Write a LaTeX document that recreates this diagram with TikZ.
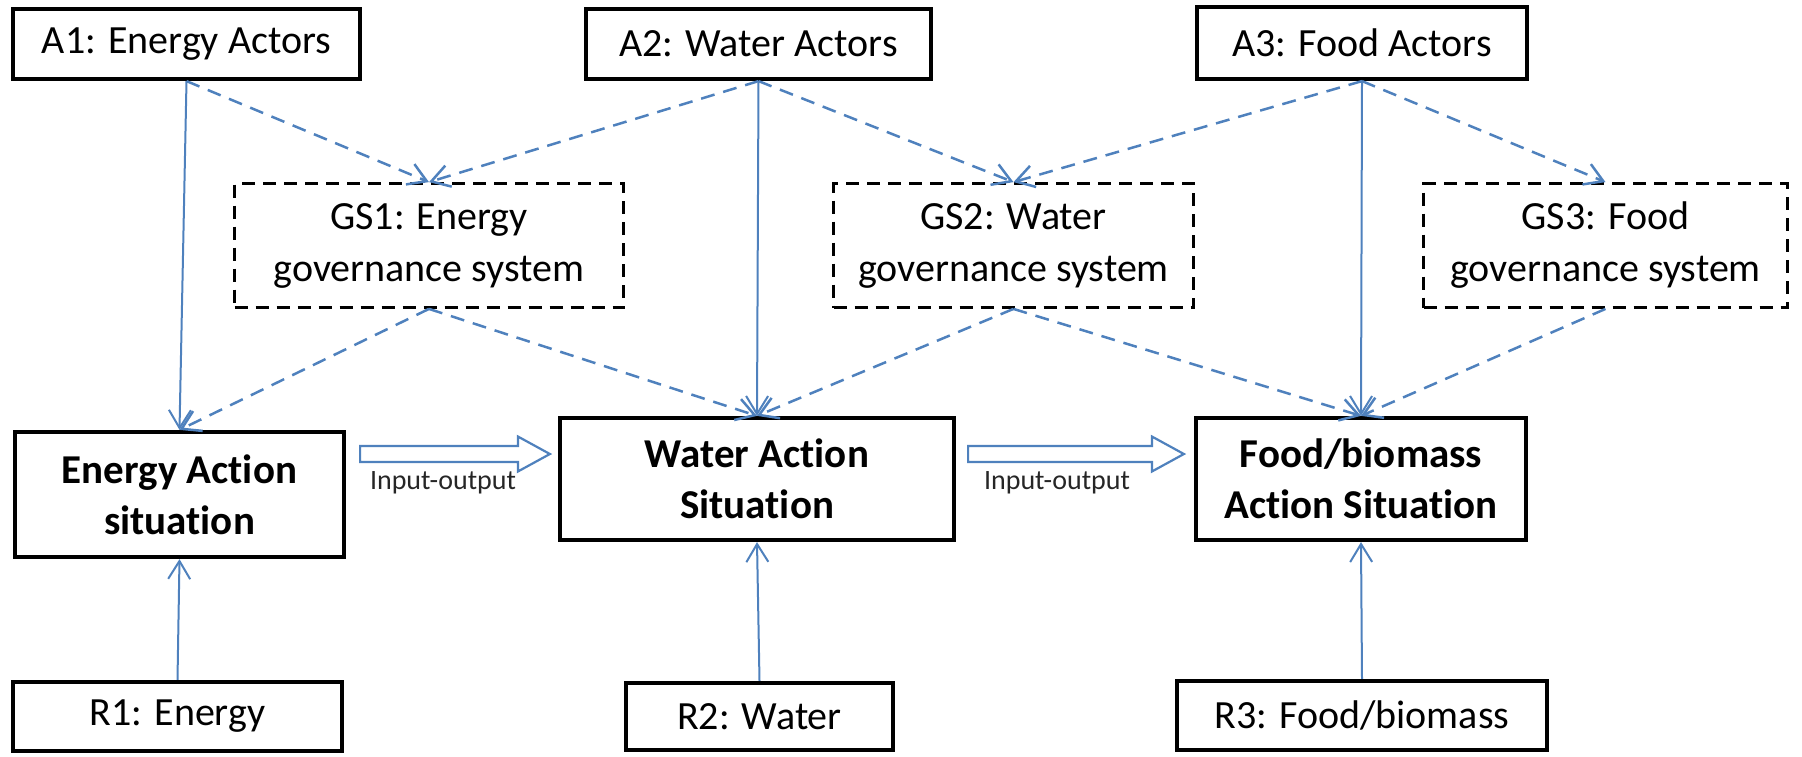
\documentclass[tikz,border=0pt]{standalone}
\usepackage{fontspec}
\setmainfont{Carlito}[Ligatures={NoCommon}]
\usetikzlibrary{arrows.meta,calc}
\definecolor{lineblue}{RGB}{79,129,189}
\begin{document}
\begin{tikzpicture}[x=1pt,y=-1pt,
  box/.style={draw=black,line width=4.2pt,rectangle,inner sep=0pt,align=center,font=\fontsize{40}{49}\selectfont},
  gsbox/.style={draw=black,line width=2.8pt,dash pattern=on 13pt off 8pt,rectangle,inner sep=0pt,align=center,font=\fontsize{40}{52}\selectfont},
  asbox/.style={box,font=\fontsize{41}{51}\selectfont\bfseries},
  solidarr/.style={draw=lineblue,line width=2pt,-{Straight Barb[length=18pt,width=22pt]}},
  dasharr/.style={draw=lineblue,line width=2.5pt,dash pattern=on 14pt off 9pt,-{Straight Barb[length=18pt,width=22pt]}},
  ioarrow/.style={draw=lineblue,line width=2.2pt,fill=white,line join=miter},
  iolabel/.style={font=\fontsize{28}{30}\selectfont,text=black!85,inner sep=0pt}
]
\useasboundingbox (0,0) rectangle (1802,756);

\node[box,minimum width=347pt,minimum height=70pt] (a1) at (186.5,44) {A1: Energy Actors};
\node[box,minimum width=345pt,minimum height=70pt] (a2) at (758.5,44) {A2: Water Actors};
\node[box,minimum width=330pt,minimum height=72pt] (a3) at (1362,43) {A3: Food Actors};

\node[gsbox,minimum width=389pt,minimum height=124pt] (gs1) at (429,245.5) {GS1: Energy\\governance system};
\node[gsbox,minimum width=360pt,minimum height=124pt] (gs2) at (1013.5,245.5) {GS2: Water\\governance system};
\node[gsbox,minimum width=364pt,minimum height=124pt] (gs3) at (1605.5,245.5) {GS3: Food\\governance system};

\node[asbox,minimum width=329pt,minimum height=125pt] (eas) at (179.5,494.5) {Energy Action\\situation};
\node[asbox,minimum width=394pt,minimum height=122pt] (was) at (757,479) {Water Action\\Situation};
\node[asbox,minimum width=330pt,minimum height=122pt] (fas) at (1361,479) {Food/biomass\\Action Situation};

\node[box,minimum width=329pt,minimum height=69pt] (r1) at (177.5,716.5) {R1: Energy};
\node[box,minimum width=267pt,minimum height=67pt] (r2) at (759.5,716.5) {R2: Water};
\node[box,minimum width=370pt,minimum height=69pt] (r3) at (1362,715.5) {R3: Food/biomass};

% solid connectors
\draw[solidarr] (a1.south) -- (eas.north);
\draw[solidarr] (a2.south) -- (was.north);
\draw[solidarr] (a3.south) -- (fas.north);
\draw[solidarr] (r1.north) -- (eas.south);
\draw[solidarr] (r2.north) -- (was.south);
\draw[solidarr] (r3.north) -- (fas.south);

% dashed connectors
\draw[dasharr] (a1.south) -- (gs1.north);
\draw[dasharr] (a2.south) -- (gs1.north);
\draw[dasharr] (a2.south) -- (gs2.north);
\draw[dasharr] (a3.south) -- (gs2.north);
\draw[dasharr] (a3.south) -- (gs3.north);
\draw[dasharr] (gs1.south) -- (eas.north);
\draw[dasharr] (gs1.south) -- (was.north);
\draw[dasharr] (gs2.south) -- (was.north);
\draw[dasharr] (gs2.south) -- (fas.north);
\draw[dasharr] (gs3.south) -- (fas.north);

% input-output block arrows
\path (eas.east |- 0,454) ++(14,0) coordinate (io1a);
\path (was.west |- 0,454) ++(-8,0) coordinate (io1b);
\path (was.east |- 0,454) ++(12,0) coordinate (io2a);
\path (fas.west |- 0,454) ++(-10,0) coordinate (io2b);

\draw[ioarrow] let \p1=(io1a), \p2=(io1b) in
  ({\x1},{\y1+8pt}) -- ({\x2-32pt},{\y1+8pt}) -- ({\x2-32pt},{\y1+17.5pt}) -- ({\x2},{\y1})
  -- ({\x2-32pt},{\y1-17.5pt}) -- ({\x2-32pt},{\y1-8pt}) -- ({\x1},{\y1-8pt}) -- cycle;
\draw[ioarrow] let \p1=(io2a), \p2=(io2b) in
  ({\x1},{\y1+8pt}) -- ({\x2-32pt},{\y1+8pt}) -- ({\x2-32pt},{\y1+17.5pt}) -- ({\x2},{\y1})
  -- ({\x2-32pt},{\y1-17.5pt}) -- ({\x2-32pt},{\y1-8pt}) -- ({\x1},{\y1-8pt}) -- cycle;

\node[iolabel] (io1t) at (443,483) {Input-output};
\node[iolabel] (io2t) at (1057,483) {Input-output};
\end{tikzpicture}
\end{document}
